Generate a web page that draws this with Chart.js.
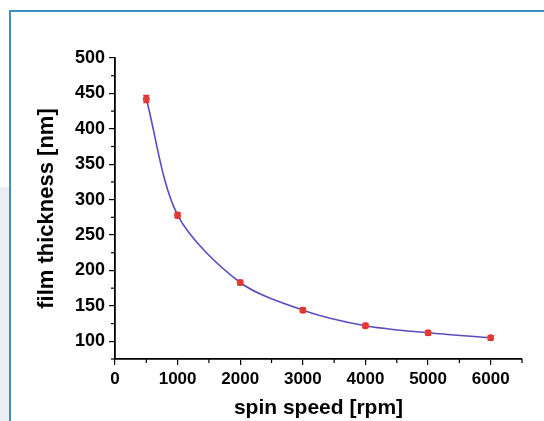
<!DOCTYPE html>
<html>
<head>
<meta charset="utf-8">
<script src="https://cdn.jsdelivr.net/npm/chart.js@4.4.1/dist/chart.umd.min.js"></script>
<style>
  html, body { margin: 0; padding: 0; background: #ffffff; }
  #wrap { position: relative; width: 544px; height: 421px; overflow: hidden; background: #ffffff; }
  #strip { position: absolute; left: 0; top: 187px; width: 9px; height: 234px; background: #e8eef3; }
  #frame { position: absolute; left: 9px; top: 10px; width: 540px; height: 420px;
           border-top: 2px solid #3f8fc2; border-left: 2px solid #3f8fc2; box-sizing: border-box; }
  canvas { position: absolute; left: 0; top: 0; }
</style>
</head>
<body>
<div id="wrap">
  <div id="strip"></div>
  <div id="frame"></div>
  <canvas id="c" width="544" height="421"></canvas>
</div>
<script>
// ---- data ----
const spinSpeed = [500, 1000, 2000, 3000, 4000, 5000, 6000];          // rpm
const thickness = [442, 278, 183, 144, 122, 112, 105];                // nm
const thicknessErr = [5, 4, 3, 3, 3, 3, 3];                           // nm
const xTickLabels = [0, 1000, 2000, 3000, 4000, 5000, 6000];
const yTickLabels = [100, 150, 200, 250, 300, 350, 400, 450, 500];
const xMinorTicks = [500, 1500, 2500, 3500, 4500, 5500, 6500];
const yMinorTicks = [75, 125, 175, 225, 275, 325, 375, 425, 475];

const fam = "'Liberation Sans', Arial, sans-serif";
const xTickFont = { family: fam, size: 17, weight: 'bold' };
const yTickFont = { family: fam, size: 18, weight: 'bold' };

const extrasPlugin = {
  id: 'extras',
  afterDatasetsDraw(chart) {
    const ctx = chart.ctx;
    const xs = chart.scales.x, ys = chart.scales.y;
    ctx.save();
    // error bars
    ctx.strokeStyle = '#e03030';
    ctx.lineWidth = 1.5;
    spinSpeed.forEach((sx, i) => {
      const px = xs.getPixelForValue(sx);
      const top = ys.getPixelForValue(thickness[i] + thicknessErr[i]);
      const bot = ys.getPixelForValue(thickness[i] - thicknessErr[i]);
      ctx.beginPath();
      ctx.moveTo(px, top); ctx.lineTo(px, bot);
      ctx.moveTo(px - 3, top); ctx.lineTo(px + 3, top);
      ctx.moveTo(px - 3, bot); ctx.lineTo(px + 3, bot);
      ctx.stroke();
    });
    // minor ticks
    ctx.strokeStyle = '#000';
    ctx.lineWidth = 1.2;
    const axisY = ys.getPixelForValue(ys.min);
    const axisX = xs.getPixelForValue(xs.min);
    xMinorTicks.forEach(v => {
      const px = xs.getPixelForValue(v);
      ctx.beginPath(); ctx.moveTo(px, axisY); ctx.lineTo(px, axisY + 4); ctx.stroke();
    });
    yMinorTicks.forEach(v => {
      const py = ys.getPixelForValue(v);
      ctx.beginPath(); ctx.moveTo(axisX, py); ctx.lineTo(axisX - 4, py); ctx.stroke();
    });
    ctx.restore();
  }
};

new Chart(document.getElementById('c'), {
  type: 'scatter',
  data: {
    datasets: [{
      data: spinSpeed.map((x, i) => ({ x: x, y: thickness[i] })),
      showLine: true,
      borderColor: '#5a4cc0',
      borderWidth: 1.6,
      tension: 0.3,
      pointRadius: 3.5,
      pointBackgroundColor: '#e8403a',
      pointBorderColor: '#e8403a',
      pointBorderWidth: 0
    }]
  },
  options: {
    responsive: false,
    animation: false,
    devicePixelRatio: 1,
    layout: { padding: { left: 0, top: 58, right: 22, bottom: 0 } },
    plugins: { legend: { display: false }, tooltip: { enabled: false } },
    scales: {
      x: {
        type: 'linear',
        min: 0, max: 6500,
        afterBuildTicks(scale) { scale.ticks = xTickLabels.map(v => ({ value: v })); },
        afterFit(scale) { scale.height = 62; },
        grid: { display: true, drawOnChartArea: false, drawTicks: true, tickLength: 6, color: '#000', lineWidth: 1.2 },
        border: { display: true, color: '#000', width: 1.8 },
        ticks: { color: '#000', font: xTickFont, padding: 4, maxRotation: 0, autoSkip: false,
                 callback: v => String(v) },
        title: { display: true, text: 'spin speed [rpm]', color: '#000',
                 font: { family: fam, size: 21, weight: 'bold' }, padding: { top: 0, bottom: 0 } }
      },
      y: {
        type: 'linear',
        min: 75, max: 500,
        afterBuildTicks(scale) { scale.ticks = yTickLabels.map(v => ({ value: v })); },
        afterFit(scale) { scale.width = 115; },
        grid: { display: true, drawOnChartArea: false, drawTicks: true, tickLength: 6, color: '#000', lineWidth: 1.2 },
        border: { display: true, color: '#000', width: 1.8 },
        ticks: { color: '#000', font: yTickFont, padding: 4, autoSkip: false,
                 callback: v => String(v) },
        title: { display: true, text: 'film thickness [nm]', color: '#000',
                 font: { family: fam, size: 22, weight: 'bold' }, padding: { top: 34, bottom: 0 } }
      }
    }
  },
  plugins: [extrasPlugin]
});
</script>
</body>
</html>
